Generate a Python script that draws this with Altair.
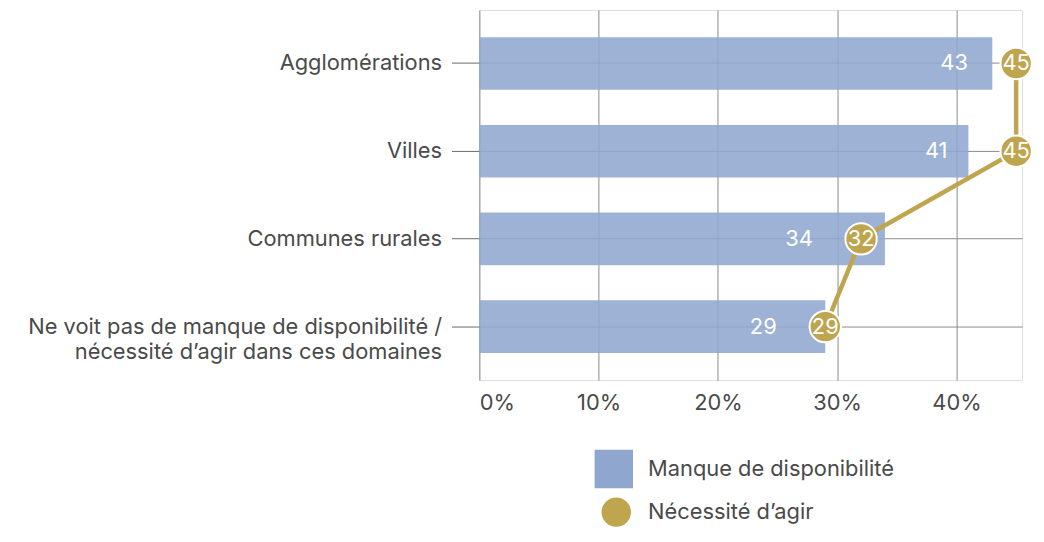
import altair as alt
import pandas as pd

categories = [
    "Agglomérations",
    "Villes",
    "Communes rurales",
    "Ne voit pas de manque de disponibilité /\nnécessité d’agir dans ces domaines",
]
manque = [43, 41, 34, 29]
necessite = [45, 45, 32, 29]
serie_bar = "Manque de disponibilité"
serie_pt = "Nécessité d’agir"

df = pd.DataFrame({
    "cat": categories,
    "manque": manque,
    "necessite": necessite,
    "idx": list(range(len(categories))),
    "s_bar": serie_bar,
    "s_pt": serie_pt,
})

FONT = "Inter"
TXT = "#4a4a4a"
BLUE = "#8FA7CF"
GOLD = "#BEA54E"
FS = 22

xscale = alt.Scale(domain=[0, 45.5], nice=False, zero=True)
yenc = alt.Y(
    "cat:N",
    sort=categories,
    scale=alt.Scale(paddingInner=0.4, paddingOuter=0.31),
    axis=alt.Axis(
        title=None,
        domain=False,
        grid=True,
        gridColor="#8a8a8a",
        gridWidth=1,
        tickSize=28,
        tickColor="#6a6a6a",
        tickWidth=1,
        labelPadding=10,
        labelFontSize=FS,
        labelColor=TXT,
        labelFont=FONT,
        labelLimit=600,
        labelLineHeight=26,
        labelExpr="split(datum.label, '\\n')",
        minExtent=475,
        maxExtent=475,
    ),
)

base = alt.Chart(df)

bars = base.mark_bar(opacity=0.88).encode(
    x=alt.X(
        "manque:Q",
        scale=xscale,
        axis=alt.Axis(
            title=None,
            values=[0, 10, 20, 30, 40],
            labelExpr="datum.value + '%'",
            domain=False,
            ticks=False,
            grid=True,
            gridColor="#8a8a8a",
            gridWidth=1,
            labelPadding=13,
            labelFontSize=FS,
            labelColor=TXT,
            labelFont=FONT,
        ),
    ),
    y=yenc,
    color=alt.Color(
        "s_bar:N",
        scale=alt.Scale(domain=[serie_bar], range=[BLUE]),
        legend=alt.Legend(
            title=None,
            orient="none",
            legendX=115,
            legendY=442,
            symbolType="square",
            symbolSize=1500,
            symbolOpacity=1,
            labelFontSize=FS,
            labelColor=TXT,
            labelFont=FONT,
            labelOffset=14,
            labelLimit=400,
        ),
    ),
)

bar_text = base.transform_calculate(
    lx="min(datum.manque, datum.necessite - 2.5) - 2.7"
).mark_text(color="white", fontSize=FS, font=FONT, align="center", baseline="middle").encode(
    x=alt.X("lx:Q", scale=xscale),
    y=alt.Y("cat:N", sort=categories),
    text=alt.Text("manque:Q"),
)

line = base.mark_line(color=GOLD, strokeWidth=4.5).encode(
    x=alt.X("necessite:Q", scale=xscale),
    y=alt.Y("cat:N", sort=categories),
    order=alt.Order("idx:Q"),
)

points = base.mark_point(filled=True, size=1000, stroke="white", strokeWidth=2, opacity=1).encode(
    x=alt.X("necessite:Q", scale=xscale),
    y=alt.Y("cat:N", sort=categories),
    fill=alt.Fill(
        "s_pt:N",
        scale=alt.Scale(domain=[serie_pt], range=[GOLD]),
        legend=alt.Legend(
            title=None,
            orient="none",
            legendX=123,
            legendY=491,
            symbolType="circle",
            symbolSize=880,
            symbolStrokeWidth=0,
            symbolOpacity=1,
            labelFontSize=FS,
            labelColor=TXT,
            labelFont=FONT,
            labelOffset=17,
            labelLimit=400,
        ),
    ),
)

pt_text = base.mark_text(color="white", fontSize=FS, font=FONT, align="center", baseline="middle").encode(
    x=alt.X("necessite:Q", scale=xscale),
    y=alt.Y("cat:N", sort=categories),
    text=alt.Text("necessite:Q"),
)

chart = (
    alt.layer(bars, bar_text, line, points, pt_text)
    .resolve_scale(color="independent", fill="independent")
    .properties(width=547, height=373, padding=0)
    .configure_view(stroke=None)
    .configure(font=FONT)
)

chart.save("out.html", embed_options={"renderer": "svg", "actions": False})
